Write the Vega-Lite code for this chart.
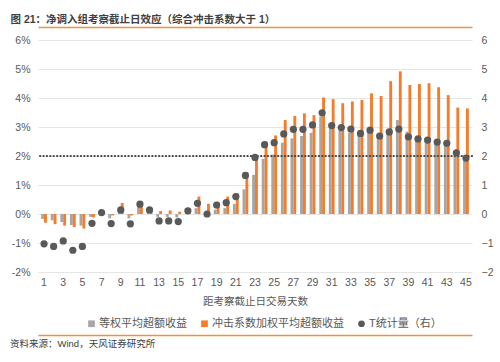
{
  "$schema": "https://vega.github.io/schema/vega-lite/v6.json",
  "width": 434,
  "height": 232,
  "autosize": {"type": "none"},
  "padding": {"left": 38, "top": 40, "right": 28, "bottom": 90},
  "title": {
    "text": "资料来源：Wind，天风证券研究所",
    "orient": "bottom",
    "anchor": "start",
    "frame": "group",
    "dx": -28,
    "offset": 4,
    "fontSize": 9.5,
    "fontWeight": "normal",
    "color": "#404040"
  },
  "data": {
    "values": [
      {"day": 1, "eq": -0.17, "imp": -0.30, "t": -1.03},
      {"day": 2, "eq": -0.22, "imp": -0.35, "t": -1.12},
      {"day": 3, "eq": -0.28, "imp": -0.40, "t": -0.93},
      {"day": 4, "eq": -0.38, "imp": -0.45, "t": -1.25},
      {"day": 5, "eq": -0.40, "imp": -0.50, "t": -1.12},
      {"day": 6, "eq": -0.10, "imp": -0.12, "t": -0.32},
      {"day": 7, "eq": 0.02, "imp": 0.05, "t": 0.05},
      {"day": 8, "eq": -0.15, "imp": -0.05, "t": -0.33},
      {"day": 9, "eq": 0.10, "imp": 0.38, "t": 0.14},
      {"day": 10, "eq": -0.15, "imp": -0.05, "t": -0.34},
      {"day": 11, "eq": 0.25, "imp": 0.45, "t": 0.34},
      {"day": 12, "eq": 0.08, "imp": 0.20, "t": 0.14},
      {"day": 13, "eq": -0.10, "imp": 0.10, "t": -0.24},
      {"day": 14, "eq": -0.10, "imp": 0.12, "t": -0.24},
      {"day": 15, "eq": -0.12, "imp": 0.08, "t": -0.26},
      {"day": 16, "eq": 0.05, "imp": 0.20, "t": 0.11},
      {"day": 17, "eq": 0.20, "imp": 0.60, "t": 0.37},
      {"day": 18, "eq": 0.00, "imp": 0.35, "t": 0.00},
      {"day": 19, "eq": 0.15, "imp": 0.42, "t": 0.31},
      {"day": 20, "eq": 0.20, "imp": 0.60, "t": 0.39},
      {"day": 21, "eq": 0.35, "imp": 0.72, "t": 0.60},
      {"day": 22, "eq": 0.85, "imp": 1.45, "t": 1.33},
      {"day": 23, "eq": 1.35, "imp": 1.95, "t": 1.95},
      {"day": 24, "eq": 1.90, "imp": 2.50, "t": 2.39},
      {"day": 25, "eq": 2.05, "imp": 2.71, "t": 2.46},
      {"day": 26, "eq": 2.46, "imp": 3.24, "t": 2.76},
      {"day": 27, "eq": 2.61, "imp": 3.38, "t": 2.92},
      {"day": 28, "eq": 2.69, "imp": 3.47, "t": 2.92},
      {"day": 29, "eq": 2.80, "imp": 3.41, "t": 3.07},
      {"day": 30, "eq": 3.36, "imp": 4.02, "t": 3.49},
      {"day": 31, "eq": 2.95, "imp": 3.96, "t": 3.05},
      {"day": 32, "eq": 2.88, "imp": 3.82, "t": 2.98},
      {"day": 33, "eq": 2.80, "imp": 3.88, "t": 2.93},
      {"day": 34, "eq": 2.70, "imp": 3.93, "t": 2.78},
      {"day": 35, "eq": 2.85, "imp": 4.16, "t": 2.89},
      {"day": 36, "eq": 2.62, "imp": 4.07, "t": 2.69},
      {"day": 37, "eq": 2.75, "imp": 4.58, "t": 2.83},
      {"day": 38, "eq": 3.24, "imp": 4.92, "t": 2.93},
      {"day": 39, "eq": 2.84, "imp": 4.45, "t": 2.66},
      {"day": 40, "eq": 2.60, "imp": 4.48, "t": 2.59},
      {"day": 41, "eq": 2.62, "imp": 4.51, "t": 2.55},
      {"day": 42, "eq": 2.50, "imp": 4.37, "t": 2.48},
      {"day": 43, "eq": 2.45, "imp": 4.10, "t": 2.44},
      {"day": 44, "eq": 2.05, "imp": 3.67, "t": 2.11},
      {"day": 45, "eq": 1.90, "imp": 3.64, "t": 1.93}
    ]
  },
  "layer": [
    {
      "transform": [{"fold": ["eq", "imp"], "as": ["series", "value"]}],
      "mark": {"type": "bar"},
      "encoding": {
        "x": {
          "field": "day",
          "type": "ordinal",
          "scale": {"paddingInner": 0.4, "paddingOuter": 0.33},
          "axis": {
            "orient": "bottom",
            "values": [1,3,5,7,9,11,13,15,17,19,21,23,25,27,29,31,33,35,37,39,41,43,45],
            "labelAngle": 0,
            "domain": true,
            "domainColor": "#f4903c",
            "domainOpacity": 1,
            "domainWidth": 1.5,
            "zindex": 1,
            "offset": 63,
            "ticks": false,
            "tickSize": 0,
            "labelPadding": -58,
            "labelFontSize": 10.5,
            "labelColor": "#595959",
            "grid": false,
            "title": "距考察截止日交易天数",
            "titleFontSize": 10.5,
            "titleFontWeight": "normal",
            "titleColor": "#595959",
            "titleBaseline": "top",
            "titleY": -39
          }
        },
        "xOffset": {
          "field": "series",
          "type": "nominal",
          "scale": {"domain": ["eq", "imp"], "paddingInner": 0, "paddingOuter": 0}
        },
        "y": {
          "field": "value",
          "type": "quantitative",
          "scale": {"domain": [-2, 6], "nice": false, "zero": false},
          "axis": {
            "orient": "left",
            "values": [-2,-1,0,1,2,3,4,5,6],
            "labelExpr": "datum.value + '%'",
            "domain": false,
            "ticks": false,
            "labelPadding": 8,
            "labelFontSize": 10.5,
            "labelColor": "#595959",
            "grid": true,
            "gridColor": "#e5e5e5",
            "title": null
          }
        },
        "color": {
          "field": "series",
          "type": "nominal",
          "scale": {"domain": ["eq", "imp", "t"], "range": ["#a6a6a6", "#f47c2a", "#595959"]},
          "legend": {
            "orient": "none",
            "legendX": 48,
            "legendY": 278,
            "direction": "horizontal",
            "title": null,
            "labelExpr": "datum.value == 'eq' ? '等权平均超额收益' : datum.value == 'imp' ? '冲击系数加权平均超额收益' : 'T统计量（右）'",
            "labelFontSize": 11,
            "labelColor": "#595959",
            "symbolSize": 45,
            "labelOffset": 2,
            "columnPadding": 12
          }
        }
      }
    },
    {
      "data": {"values": [{}]},
      "mark": {"type": "rule", "strokeDash": [0.1, 3.3], "strokeCap": "round", "strokeWidth": 2.2, "color": "#404040"},
      "encoding": {
        "y": {"datum": 2, "type": "quantitative", "scale": {"domain": [-2, 6], "nice": false}, "axis": null}
      }
    },
    {
      "transform": [{"fold": ["t"], "as": ["series", "value"]}],
      "mark": {"type": "point", "filled": true, "size": 52, "opacity": 1},
      "encoding": {
        "x": {
          "field": "day",
          "type": "ordinal",
          "axis": {
            "orient": "top",
            "offset": 13,
            "domain": true,
            "domainColor": "#f4903c",
            "domainOpacity": 1,
            "domainWidth": 1.5,
            "zindex": 1,
            "labels": false,
            "ticks": false,
            "grid": false,
            "title": "图 21：净调入组考察截止日效应（综合冲击系数大于 1）",
            "titleAnchor": "start",
            "titleAlign": "left",
            "titleX": -28,
            "titleY": -4.5,
            "titleBaseline": "alphabetic",
            "titleFontSize": 10.5,
            "titleFontWeight": "bold",
            "titleColor": "#404040"
          }
        },
        "y": {
          "field": "value",
          "type": "quantitative",
          "scale": {"domain": [-2, 6], "nice": false, "zero": false},
          "axis": {
            "orient": "right",
            "values": [-2,-1,0,1,2,3,4,5,6],
            "domain": false,
            "ticks": false,
            "labelPadding": 9,
            "labelFontSize": 10.5,
            "labelColor": "#595959",
            "grid": false,
            "title": null
          }
        },
        "color": {"field": "series", "type": "nominal"},
        "shape": {
          "field": "series",
          "type": "nominal",
          "scale": {"domain": ["eq", "imp", "t"], "range": ["square", "square", "circle"]},
          "legend": {
            "orient": "none",
            "legendX": 48,
            "legendY": 278,
            "direction": "horizontal",
            "title": null,
            "labelExpr": "datum.value == 'eq' ? '等权平均超额收益' : datum.value == 'imp' ? '冲击系数加权平均超额收益' : 'T统计量（右）'",
            "labelFontSize": 11,
            "labelColor": "#595959",
            "symbolSize": 45,
            "labelOffset": 2,
            "columnPadding": 12
          }
        }
      }
    }
  ],
  "resolve": {"scale": {"y": "independent"}, "axis": {"x": "independent", "y": "independent"}},
  "config": {
    "view": {"stroke": null},
    "font": "Liberation Sans, Noto Sans CJK SC, sans-serif"
  }
}
